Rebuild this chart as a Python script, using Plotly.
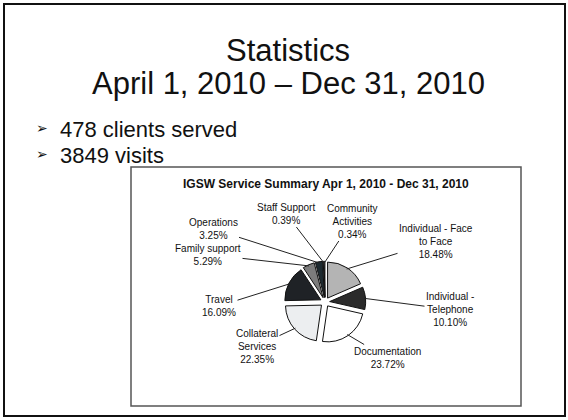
import math
import plotly.graph_objects as go

# ---------------- data ----------------
categories = ["Individual - Face to Face", "Individual - Telephone", "Documentation",
              "Collateral Services", "Travel", "Family support", "Operations",
              "Staff Support", "Community Activities"]
label_lines = ["Individual - Face<br>to Face", "Individual -<br>Telephone", "Documentation",
               "Collateral<br>Services", "Travel", "Family support", "Operations",
               "Staff Support", "Community<br>Activities"]
percent = [18.48, 10.10, 23.72, 22.35, 16.09, 5.29, 3.25, 0.39, 0.34]
slice_colors = ["#b4b4b4", "#2b2b2b", "#ffffff", "#eceef0", "#1f2226",
                "#7c7c7c", "#1d2a30", "#ffffff", "#ffffff"]
clients_served = 478
visits = 3849

# ---------------- layout geometry (pixels) ----------------
W, H = 568, 420
CX, CY, R, PULL = 325, 302, 36, 0.13
half = R * (1 + PULL)
# label text centres (px)
label_pos = [(436, 241.5), (450, 309.5), (387, 358), (257, 346), (219, 306),
             (208, 254.5), (213, 229), (286, 213.5), (352, 221)]

FONT = "Arial, Liberation Sans, Helvetica, sans-serif"

fig = go.Figure()
fig.add_trace(go.Pie(
    labels=categories, values=percent, sort=False, direction="clockwise", rotation=0,
    marker=dict(colors=slice_colors, line=dict(color="#111111", width=1)),
    pull=[PULL] * len(percent), textinfo="none", hoverinfo="label+percent",
    showlegend=False,
    domain=dict(x=[(CX - half) / W, (CX + half) / W],
                y=[1 - (CY + half) / H, 1 - (CY - half) / H]),
))

annotations = []
total = sum(percent)
cum = 0.0
for name, v, (lx, ly) in zip(label_lines, percent, label_pos):
    mid = (cum + v / 2) / total * 2 * math.pi
    cum += v
    dx, dy = math.sin(mid), -math.cos(mid)
    rr = (1 + PULL) * R * 0.97
    tx, ty = CX + rr * dx, CY + rr * dy
    annotations.append(dict(
        x=tx / W, y=1 - ty / H, xref="paper", yref="paper",
        ax=lx - tx, ay=ly - ty, axref="pixel", ayref="pixel",
        text=f"{name}<br>{v:.2f}%", align="center",
        showarrow=True, arrowhead=0, arrowwidth=1, arrowcolor="#222222",
        standoff=0, startstandoff=0,
        font=dict(family=FONT, size=10, color="#111111"),
    ))

# slide texts
annotations += [
    dict(x=288 / W, y=1 - 50 / H, xref="paper", yref="paper", showarrow=False,
         text="Statistics", font=dict(family=FONT, size=31, color="#111111"),
         xanchor="center", yanchor="middle"),
    dict(x=288 / W, y=1 - 84 / H, xref="paper", yref="paper", showarrow=False,
         text="April 1, 2010 \u2013 Dec 31, 2010", font=dict(family=FONT, size=31, color="#111111"),
         xanchor="center", yanchor="middle"),
    dict(x=34 / W, y=1 - 128 / H, xref="paper", yref="paper", showarrow=False,
         text="\u27a2", font=dict(family="DejaVu Sans", size=14, color="#111111"),
         xanchor="left", yanchor="middle"),
    dict(x=58 / W, y=1 - 129 / H, xref="paper", yref="paper", showarrow=False,
         text=f"{clients_served} clients served", font=dict(family=FONT, size=22, color="#111111"),
         xanchor="left", yanchor="middle"),
    dict(x=34 / W, y=1 - 154 / H, xref="paper", yref="paper", showarrow=False,
         text="\u27a2", font=dict(family="DejaVu Sans", size=14, color="#111111"),
         xanchor="left", yanchor="middle"),
    dict(x=58 / W, y=1 - 155 / H, xref="paper", yref="paper", showarrow=False,
         text=f"{visits} visits", font=dict(family=FONT, size=22, color="#111111"),
         xanchor="left", yanchor="middle"),
    dict(x=326 / W, y=1 - 184 / H, xref="paper", yref="paper", showarrow=False,
         text="<b>IGSW Service Summary Apr 1, 2010 - Dec 31, 2010</b>",
         font=dict(family=FONT, size=12, color="#111111"),
         xanchor="center", yanchor="middle"),
]

shapes = [
    dict(type="rect", xref="paper", yref="paper",
         x0=4 / W, x1=565 / W, y0=1 - 416 / H, y1=1 - 4 / H,
         line=dict(color="#111111", width=2), fillcolor="rgba(0,0,0,0)"),
    dict(type="rect", xref="paper", yref="paper",
         x0=131 / W, x1=521 / W, y0=1 - 406 / H, y1=1 - 167 / H,
         line=dict(color="#555555", width=1.5), fillcolor="rgba(0,0,0,0)"),
]

fig.update_layout(
    width=W, height=H, autosize=False,
    margin=dict(l=0, r=0, t=0, b=0),
    paper_bgcolor="white", plot_bgcolor="white",
    annotations=annotations, shapes=shapes,
)
fig.write_html("out.html", config={"displayModeBar": False},
               post_script="document.body.style.margin='0';document.body.style.overflow='hidden';")
